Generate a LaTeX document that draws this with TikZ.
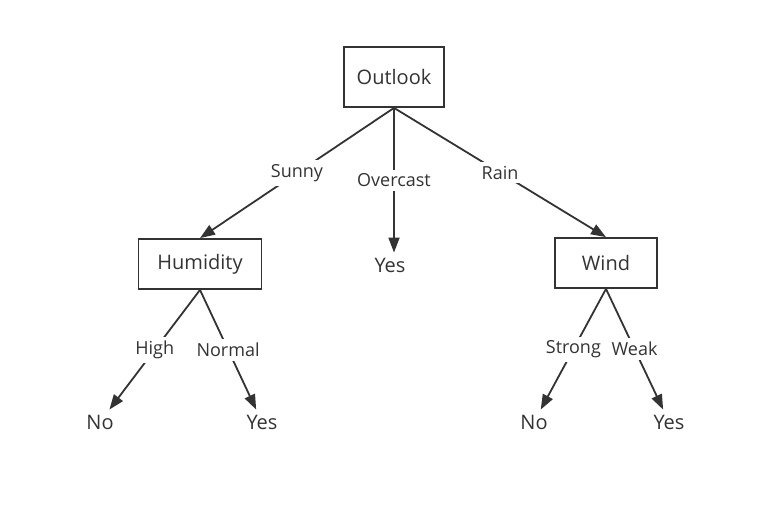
\documentclass[tikz,border=0pt]{standalone}
\usepackage{fontspec}
\setmainfont{Open Sans}
\usepackage{xcolor}
\usetikzlibrary{arrows.meta}
\definecolor{ink}{HTML}{333333}

\begin{document}
\begin{tikzpicture}[x=1pt, y=-1pt, >={Triangle[length=15pt,width=11pt]},
  attr/.style={draw=ink, line width=1.8pt, text=ink, font=\fontsize{20}{24}\selectfont,
               minimum height=50pt, inner sep=0pt},
  leaf/.style={text=ink, font=\fontsize{20}{24}\selectfont, inner sep=5pt},
  branch/.style={draw=ink, line width=1.8pt, ->},
  val/.style={fill=white, text=ink, font=\fontsize{18}{21}\selectfont, inner sep=4pt}]
\useasboundingbox (0,0) rectangle (783,504);
% attribute nodes
\node[attr, minimum width=100pt, minimum height=60pt] (outlook) at (394,77) {Outlook};
\node[attr, minimum width=123pt] (humidity) at (200,264) {Humidity};
\node[attr, minimum width=102pt] (wind) at (606,263) {Wind};
% leaves
\node[leaf] (yesOver) at (390,265) {Yes};
\node[leaf] (noHigh) at (100,422) {No};
\node[leaf] (yesNormal) at (262,422) {Yes};
\node[leaf] (noStrong) at (534,422) {No};
\node[leaf] (yesWeak) at (669,422) {Yes};
% branches
\draw[branch] (outlook.south) -- node[val] {Sunny} (humidity.north);
\draw[branch] (outlook.south) -- node[val] {Overcast} (outlook.south |- yesOver.north);
\draw[branch] (outlook.south) -- node[val] {Rain} (wind.north);
\draw[branch] (humidity.south) -- node[val] {High} (noHigh);
\draw[branch] (humidity.south) -- node[val] {Normal} (yesNormal);
\draw[branch] (wind.south) -- node[val] {Strong} (noStrong);
\draw[branch] (wind.south) -- node[val] {Weak} (yesWeak);
\end{tikzpicture}
\end{document}
